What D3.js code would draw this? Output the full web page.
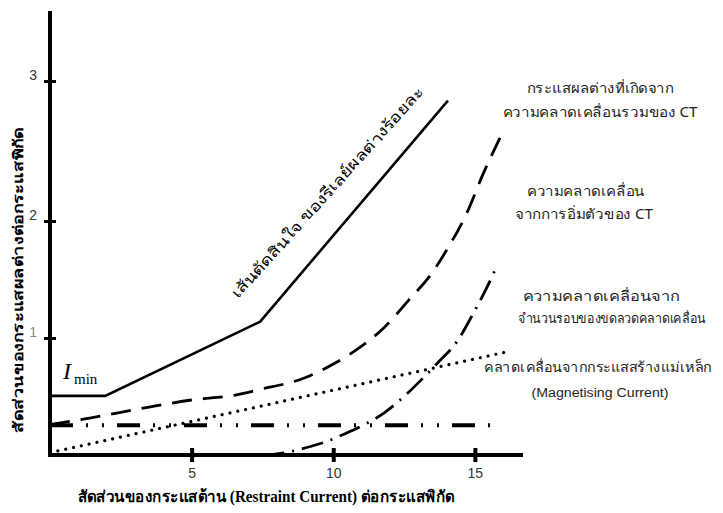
<!DOCTYPE html>
<html>
<head>
<meta charset="utf-8">
<script src="https://cdn.jsdelivr.net/npm/d3@7"></script>
<style>
  html, body { margin: 0; padding: 0; background: #fff; }
  svg { display: block; }
</style>
</head>
<body>
<svg id="chart" width="723" height="513"></svg>
<script>
// Axis ticks
const xTicks = [5, 10, 15];
const yTicks = [1, 2, 3];

// Curves: [restraint current (p.u.), differential current (p.u.)]
const relayCharacteristic = [[0, 0.505], [1.95, 0.505], [7.42, 1.14], [14.05, 2.86]];
const ctTotalError = [
  [0, 0.26], [1.5, 0.32], [3.5, 0.41], [5, 0.47], [6.5, 0.51], [7.4, 0.56],
  [9, 0.66], [10.1, 0.79], [11, 0.93], [11.8, 1.09], [12.65, 1.32],
  [13.5, 1.56], [14, 1.75], [14.7, 2.05], [15.3, 2.34], [15.9, 2.6]
];
const saturationError = [
  [7.5, 0], [8.3, 0.02], [9, 0.06], [9.7, 0.11], [10.4, 0.18], [11.1, 0.26],
  [11.8, 0.36], [12.5, 0.5], [13.1, 0.64], [13.7, 0.79], [14.4, 0.98],
  [14.9, 1.19], [15.4, 1.42], [15.75, 1.6]
];
const turnsRatioError = [[0, 0.02], [16.1, 0.88]];
const magnetisingError = [[0, 0.255], [15.8, 0.255]];

// Annotation texts
const relayLabel = "เส้นตัดสินใจ ของรีเลย์ผลต่างร้อยละ";
const totalErrorLabel = ["กระแสผลต่างที่เกิดจาก", "ความคลาดเคลื่อนรวมของ CT"];
const saturationLabel = ["ความคลาดเคลื่อน", "จากการอิ่มตัวของ CT"];
const turnsLabel = ["ความคลาดเคลื่อนจาก", "จำนวนรอบของขดลวดคลาดเคลื่อน"];
const magnetisingLabel = ["คลาดเคลื่อนจากกระแสสร้างแม่เหล็ก", "(Magnetising Current)"];
const xTitle = "สัดส่วนของกระแสต้าน (Restraint Current) ต่อกระแสพิกัด";
const yTitle = "สัดส่วนของกระแสผลต่างต่อกระแสพิกัด";

const svg = d3.select("#chart");
const thaiFont = "'Noto Sans', 'DejaVu Sans', sans-serif";
const latinSans = "Arial, 'Liberation Sans', sans-serif";

const x = d3.scaleLinear().domain([0, 16.7]).range([50, 523]);
// the vertical axis is drawn with an uneven spacing above 2
const y = d3.scaleLinear().domain([0, 1, 2, 3, 3.5]).range([455, 338, 221, 81, 11]);

// Axes
svg.append("line").attr("x1", x(0)).attr("x2", x(0)).attr("y1", y(3.5)).attr("y2", y(0) + 2)
  .attr("stroke", "#000").attr("stroke-width", 4);
svg.append("line").attr("x1", x(0) - 2).attr("x2", x(16.7)).attr("y1", y(0)).attr("y2", y(0))
  .attr("stroke", "#000").attr("stroke-width", 4);

const xAxis = svg.append("g").attr("transform", `translate(0,${y(0)})`)
  .call(d3.axisBottom(x).tickValues(xTicks).tickFormat(d3.format("d")).tickSize(0).tickPadding(10));
xAxis.select(".domain").remove();
xAxis.selectAll(".tick").append("line").attr("y1", -7).attr("y2", 7)
  .attr("stroke", "#000").attr("stroke-width", 4);
xAxis.selectAll("text").attr("font-family", latinSans)
  .attr("font-size", 14).attr("fill", "#333").attr("dy", "0.9em");

const yAxis = svg.append("g").attr("transform", `translate(${x(0)},0)`)
  .call(d3.axisLeft(y).tickValues(yTicks).tickFormat(d3.format("d")).tickSize(0).tickPadding(13));
yAxis.select(".domain").remove();
yAxis.selectAll(".tick").append("line").attr("x1", -6).attr("x2", 6)
  .attr("stroke", "#000").attr("stroke-width", 3);
yAxis.selectAll("text").attr("font-family", latinSans)
  .attr("font-size", 14).attr("fill", d => d === 1 ? "#888" : "#333").attr("dy", "-0.1em");

// Curves
const line = d3.line().x(d => x(d[0])).y(d => y(d[1]));
const smooth = d3.line().x(d => x(d[0])).y(d => y(d[1])).curve(d3.curveMonotoneX);

svg.append("path").datum(magnetisingError).attr("d", line)
  .attr("fill", "none").attr("stroke", "#000").attr("stroke-width", 4)
  .attr("stroke-dasharray", "23,13,2,14,2,13");
svg.append("path").datum(turnsRatioError).attr("d", line)
  .attr("fill", "none").attr("stroke", "#000").attr("stroke-width", 3.2)
  .attr("stroke-linecap", "round").attr("stroke-dasharray", "0.01,8");
svg.append("path").datum(saturationError).attr("d", smooth)
  .attr("fill", "none").attr("stroke", "#000").attr("stroke-width", 2.8)
  .attr("stroke-dasharray", "22,8,2,8");
svg.append("path").datum(ctTotalError).attr("d", smooth)
  .attr("fill", "none").attr("stroke", "#000").attr("stroke-width", 2.8)
  .attr("stroke-dasharray", "20,11");
svg.append("path").datum(relayCharacteristic).attr("d", line)
  .attr("fill", "none").attr("stroke", "#000").attr("stroke-width", 2.6);

// I_min label
const imin = svg.append("text").attr("x", 63).attr("y", 379)
  .attr("font-family", "'Liberation Serif', 'Times New Roman', serif").attr("fill", "#000");
imin.append("tspan").attr("font-style", "italic").attr("font-size", 24).text("I");
imin.append("tspan").attr("font-size", 15).attr("dx", 3).attr("dy", 5).text("min");

// Label along the relay characteristic
svg.append("text")
  .attr("transform", "translate(238,299) rotate(-47.9)")
  .attr("font-family", thaiFont).attr("font-size", 15).attr("fill", "#000")
  .attr("textLength", 278).attr("lengthAdjust", "spacingAndGlyphs")
  .text(relayLabel);

// Curve annotations: text, centre x, baseline y, width, font, size
function note(t, cx, by, w, font, size) {
  svg.append("text").attr("x", cx).attr("y", by)
    .attr("text-anchor", "middle").attr("font-family", font)
    .attr("font-size", size).attr("fill", "#222")
    .attr("textLength", w).attr("lengthAdjust", "spacingAndGlyphs")
    .text(t);
}
note(totalErrorLabel[0], 600, 93, 147, thaiFont, 14);
note(totalErrorLabel[1], 600, 117, 195, thaiFont, 14);
note(saturationLabel[0], 586, 196, 118, thaiFont, 14);
note(saturationLabel[1], 584, 219, 138, thaiFont, 14);
note(turnsLabel[0], 601, 301, 157, thaiFont, 14);
note(turnsLabel[1], 612, 323, 188, thaiFont, 13);
note(magnetisingLabel[0], 598, 372, 228, thaiFont, 13.5);
note(magnetisingLabel[1], 600, 397, 137, latinSans, 12);

// Axis titles
svg.append("text").attr("x", 266).attr("y", 502).attr("text-anchor", "middle")
  .attr("font-family", "'Liberation Serif', " + thaiFont).attr("font-weight", "bold")
  .attr("font-size", 16).attr("fill", "#000")
  .attr("textLength", 377).attr("lengthAdjust", "spacingAndGlyphs")
  .text(xTitle);
svg.append("text").attr("transform", "translate(23,280) rotate(-90)")
  .attr("text-anchor", "middle").attr("font-family", thaiFont).attr("font-weight", "bold")
  .attr("font-size", 14).attr("fill", "#000")
  .attr("textLength", 306).attr("lengthAdjust", "spacingAndGlyphs")
  .text(yTitle);
</script>
</body>
</html>
